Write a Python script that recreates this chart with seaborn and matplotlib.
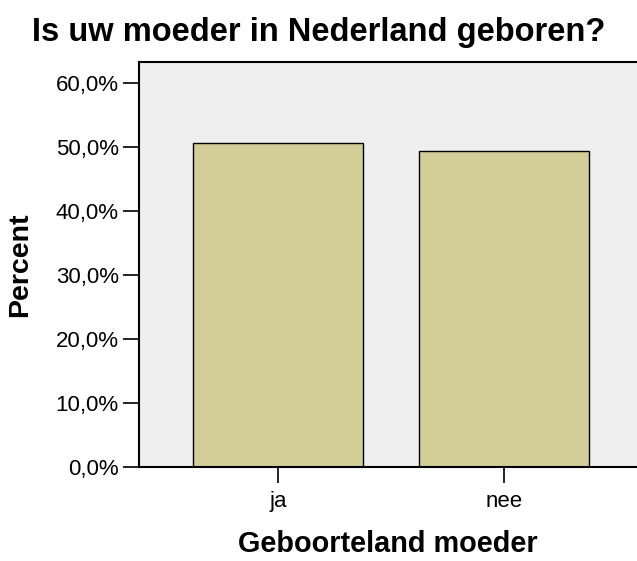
import matplotlib
matplotlib.use("Agg")
import matplotlib.pyplot as plt
from matplotlib.ticker import FuncFormatter
import seaborn as sns
import pandas as pd

# Data
categories = ["ja", "nee"]
percentages = [50.6, 49.4]
y_ticks = [0, 10, 20, 30, 40, 50, 60]

sns.set_style("white", {"xtick.bottom": True, "ytick.left": True,
                        "text.color": "black", "axes.labelcolor": "black",
                        "xtick.color": "black", "ytick.color": "black"})
plt.rcParams["font.family"] = ["Liberation Sans", "DejaVu Sans"]

df = pd.DataFrame({"Geboorteland moeder": categories, "Percent": percentages})

fig = plt.figure(figsize=(6.37, 5.61), dpi=100)
ax = fig.add_axes([139 / 637, 1 - 467 / 561, 498 / 637, 405 / 561])
ax.set_facecolor("#efefef")

sns.barplot(data=df, x="Geboorteland moeder", y="Percent", color="#d3ce97",
            saturation=1, width=0.75, edgecolor="black", linewidth=1.0, ax=ax)

ax.set_xlim(-0.615, 1.589)
ax.set_ylim(0, 63.3)
ax.set_yticks(y_ticks)
ax.yaxis.set_major_formatter(FuncFormatter(lambda v, p: f"{v:.1f}%".replace(".", ",")))

for side in ["left", "bottom", "top"]:
    ax.spines[side].set_visible(True)
    ax.spines[side].set_linewidth(1.5)
    ax.spines[side].set_color("black")
ax.spines["right"].set_visible(False)

ax.tick_params(axis="both", which="major", direction="out", length=11.5,
               width=1.2, color="black", labelsize=16, labelcolor="black",
               bottom=True, left=True)
ax.tick_params(axis="y", pad=3)
ax.tick_params(axis="x", pad=6)

ax.set_xlabel("Geboorteland moeder", fontsize=20.8, fontweight="bold", color="black")
ax.set_ylabel("Percent", fontsize=20.5, fontweight="bold", color="black")
ax.xaxis.set_label_coords(0.5, (467 - 530) / 405)
ax.yaxis.set_label_coords((33 - 139) / 498, 0.5)

fig.suptitle("Is uw moeder in Nederland geboren?", x=0.5, y=1 - 32 / 561,
             va="center", fontsize=23.5, fontweight="bold", color="black")

fig.savefig("out.png", dpi=100)
